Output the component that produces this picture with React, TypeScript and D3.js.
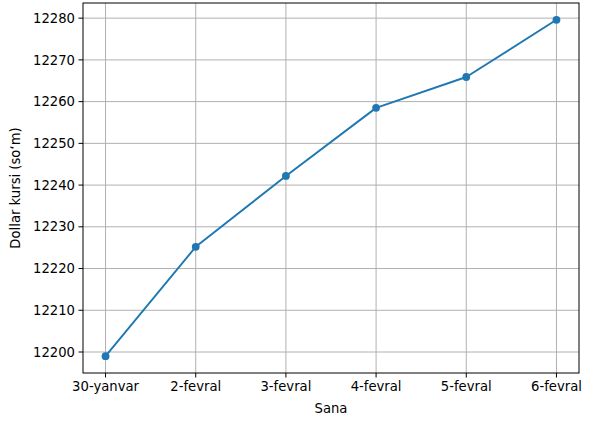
import React from "react";
import * as d3 from "d3";

const categories = ["30-yanvar", "2-fevral", "3-fevral", "4-fevral", "5-fevral", "6-fevral"];
const rates = [12199.0, 12225.2, 12242.2, 12258.5, 12265.9, 12279.6];
const yTicks = [12200, 12210, 12220, 12230, 12240, 12250, 12260, 12270, 12280];

const W = 593, H = 426;
const L = 83, R = 579, T = 3, B = 373;
const FONT = "DejaVu Sans, sans-serif";
const FS = 13.2;
const BLUE = "#1f77b4";

export default function App() {
  const n = categories.length;
  const padX = (n - 1) * 0.05;
  const x = d3.scaleLinear().domain([-padX, n - 1 + padX]).range([L, R]);
  const ymin = d3.min(rates)!, ymax = d3.max(rates)!;
  const padY = (ymax - ymin) * 0.05;
  const y = d3.scaleLinear().domain([ymin - padY, ymax + padY]).range([B, T]);
  const line = d3.line<number>().x((_, i) => x(i)).y((d) => y(d));

  return (
    <svg width={W} height={H} style={{ position: "absolute", left: 0, top: 0 }} fontFamily={FONT}>
      <rect width={W} height={H} fill="#fff" />
      {categories.map((c, i) => (
        <line key={"gx" + c} x1={x(i)} x2={x(i)} y1={T} y2={B} stroke="#b0b0b0" strokeWidth={1} />
      ))}
      {yTicks.map((t) => (
        <line key={"gy" + t} x1={L} x2={R} y1={y(t)} y2={y(t)} stroke="#b0b0b0" strokeWidth={1} />
      ))}
      <path d={line(rates)!} fill="none" stroke={BLUE} strokeWidth={1.9} strokeLinejoin="round" strokeLinecap="square" />
      {rates.map((v, i) => (
        <circle key={"p" + i} cx={x(i)} cy={y(v)} r={3.9} fill={BLUE} />
      ))}
      <rect x={L} y={T} width={R - L} height={B - T} fill="none" stroke="#000" strokeWidth={1} />
      {categories.map((c, i) => (
        <g key={"tx" + c}>
          <line x1={x(i)} x2={x(i)} y1={B} y2={B + 4.5} stroke="#000" strokeWidth={1} />
          <text x={x(i)} y={B + 8} dy="0.76em" textAnchor="middle" fontSize={FS} fill="#000">{c}</text>
        </g>
      ))}
      {yTicks.map((t) => (
        <g key={"ty" + t}>
          <line x1={L - 4.5} x2={L} y1={y(t)} y2={y(t)} stroke="#000" strokeWidth={1} />
          <text x={L - 8} y={y(t)} dy="0.35em" textAnchor="end" fontSize={FS} fill="#000">{t}</text>
        </g>
      ))}
      <text x={(L + R) / 2} y={B + 40} textAnchor="middle" fontSize={FS} fill="#000">Sana</text>
      <text transform={`translate(${20},${(T + B) / 2}) rotate(-90)`} textAnchor="middle" fontSize={FS} fill="#000">Dollar kursi (so‘m)</text>
    </svg>
  );
}
